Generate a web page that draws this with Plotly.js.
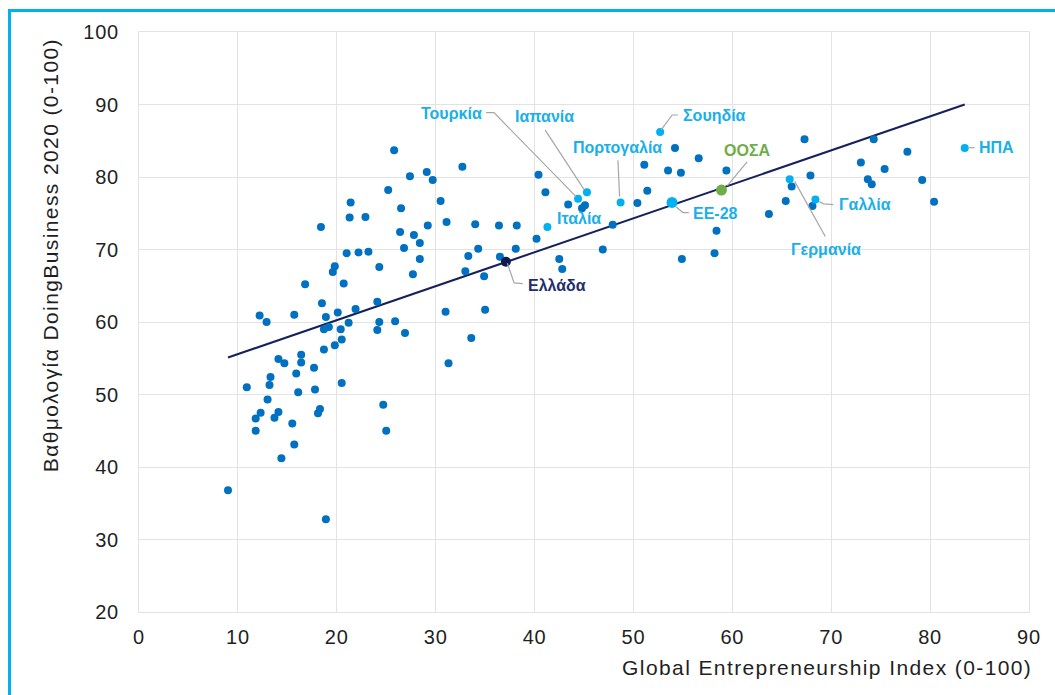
<!DOCTYPE html>
<html>
<head>
<meta charset="utf-8">
<script src="https://cdn.plot.ly/plotly-3.0.1.min.js"></script>
<style>
  html, body { margin: 0; padding: 0; background: #ffffff; overflow: hidden; }
  #chart { position: absolute; left: 0; top: 0; width: 1055px; height: 695px; }
  #frame { position: absolute; left: 8px; top: 9px; width: 1100px; height: 800px;
           border: 3px solid #00B0F0; pointer-events: none; }
  #chart g.annotation[data-index="11"] text,
  #chart g.annotation[data-index="12"] text { letter-spacing: 1.4px; }
  #chart .xtick text, #chart .ytick text { letter-spacing: 0.8px; }
</style>
</head>
<body>
<div id="chart"></div>
<div id="frame"></div>
<script>
// Global Entrepreneurship Index (x) vs DoingBusiness 2020 score (y), other countries
const otherGEI = [25.8,27.4,29.1,29.7,25.2,21.4,30.5,21.3,22.9,26.5,18.4,26.4,27.8,29.2,31.1,28.4,26.8,21.0,22.2,23.2,
  28.4,19.8,19.6,24.3,27.7,16.8,20.7,18.5,24.1,12.2,12.9,15.7,18.9,20.1,21.9,21.2,24.3,25.9,31.0,18.7,
  19.2,20.4,24.1,26.9,20.5,19.8,18.7,14.1,14.7,16.4,16.4,17.7,15.9,13.3,13.2,10.9,20.5,17.8,16.1,13.0,
  12.3,11.8,14.1,13.7,15.5,11.8,18.3,18.1,24.7,25.0,15.7,14.4,9.0,18.9,31.3,32.7,34.0,36.4,38.2,33.3,
  34.3,36.5,38.1,40.2,33.0,34.9,42.5,42.8,40.4,41.1,43.4,44.8,45.1,46.9,47.9,50.4,51.4,51.1,53.5,54.8,
  54.2,56.6,54.9,58.2,58.4,35.0,33.6,59.4,67.3,74.3,77.7,73.0,75.4,67.9,73.7,74.1,79.2,80.4,66.0,65.4,
  68.1,63.7];
const otherDB = [83.7,80.1,80.7,79.6,78.2,76.5,76.7,74.4,74.5,75.7,73.1,72.4,72.0,73.3,73.8,70.9,70.2,69.5,69.6,69.7,
  68.7,67.7,66.9,67.6,66.6,65.2,65.3,62.6,62.8,60.9,60.0,61.0,60.7,61.3,61.8,59.9,60.0,60.1,61.4,59.0,
  59.3,59.0,58.9,58.5,57.6,56.8,56.2,54.9,54.3,55.5,54.4,53.7,52.9,52.4,51.3,51.0,51.6,50.7,50.3,49.3,
  47.5,46.7,47.6,46.8,46.0,45.0,48.0,47.4,48.6,45.0,43.1,41.2,36.8,32.8,54.3,81.4,73.5,73.3,73.3,69.1,
  70.1,69.0,70.1,71.5,67.0,66.3,68.7,67.3,80.3,77.9,76.2,75.7,76.1,70.0,73.4,76.4,78.1,81.7,80.9,80.6,
  84.0,82.6,68.7,69.5,72.6,61.7,57.8,80.9,85.2,85.2,83.5,82.0,81.1,80.2,79.7,79.0,79.6,76.6,78.7,76.7,
  76.0,74.9];

// Highlighted countries
const hlNames = ['Τουρκία','Ιαπανία','Πορτογαλία','Σουηδία','Ιταλία','Γερμανία','Γαλλία','ΗΠΑ'];
const hlGEI   = [44.4, 45.3, 48.7, 52.7, 41.3, 65.8, 68.4, 83.5];
const hlDB    = [77.0, 77.9, 76.5, 86.2, 73.1, 79.7, 76.9, 84.0];

const euName = ['ΕΕ-28'];   const euGEI = [53.9];  const euDB = [76.5];
const grName = ['Ελλάδα'];  const grGEI = [37.1];  const grDB = [68.3];
const oecdName = ['ΟΟΣΑ'];  const oecdGEI = [58.9]; const oecdDB = [78.2];

// Linear trend line (endpoints)
const trendGEI = [9.0, 83.5];
const trendDB  = [55.1, 90.0];

// Tick labels
const xTicks = [0,10,20,30,40,50,60,70,80,90];
const yTicks = [20,30,40,50,60,70,80,90,100];

const FONT = 'Liberation Sans, Arial, sans-serif';
const LIGHT = '#1AAFEA';
const BLUE = '#0070C0';
const NAVY = '#16205A';
const GREEN = '#70AD47';
const LEAD = '#A6A6A6';
const TXT = '#1F1F1F';

const traces = [
  { x: trendGEI, y: trendDB, mode: 'lines', line: {color: NAVY, width: 2}, hoverinfo: 'skip' },
  { x: otherGEI, y: otherDB, mode: 'markers', marker: {color: BLUE, size: 8} },
  { x: hlGEI, y: hlDB, text: hlNames, mode: 'markers', marker: {color: '#00B0F0', size: 8} },
  { x: euGEI, y: euDB, text: euName, mode: 'markers', marker: {color: '#00B0F0', size: 11} },
  { x: grGEI, y: grDB, text: grName, mode: 'markers', marker: {color: '#0E1A4F', size: 10} },
  { x: oecdGEI, y: oecdDB, text: oecdName, mode: 'markers', marker: {color: GREEN, size: 11} }
];

function lab(text, x, y, xanchor, color) {
  return { text: '<b>' + text + '</b>', x: x, y: y, xref: 'x', yref: 'y', xanchor: xanchor, yanchor: 'middle',
           showarrow: false, font: {family: FONT, size: 16, color: color || LIGHT} };
}
function lead(pts) {
  return { type: 'path', xref: 'x', yref: 'y', layer: 'above',
           path: 'M' + pts.map(p => p[0] + ',' + p[1]).join(' L'),
           line: {color: LEAD, width: 1.2} };
}

const annotations = [
  lab(hlNames[0], 34.9, 88.7, 'right'),
  lab(hlNames[1], 40.96, 88.3, 'center'),
  lab(hlNames[2], 48.36, 84.1, 'center'),
  lab(hlNames[3], 54.77, 88.55, 'left'),
  lab(hlNames[4], 44.49, 74.3, 'center'),
  lab(hlNames[5], 69.52, 70.0, 'center'),
  lab(hlNames[6], 70.59, 76.14, 'left'),
  lab(hlNames[7], 84.73, 84.04, 'left'),
  lab(euName[0], 55.78, 75.0, 'left'),
  lab(grName[0], 39.17, 64.97, 'left', '#1F2D6B'),
  lab(oecdName[0], 61.49, 83.72, 'center', GREEN),
  { text: 'Global Entrepreneurship Index (0-100)', xref: 'paper', yref: 'paper', x: 0.976, y: -0.095,
    xanchor: 'right', yanchor: 'middle', showarrow: false, font: {family: FONT, size: 21, color: TXT} },
  { text: 'Βαθμολογία DoingBusiness 2020 (0-100)', xref: 'paper', yref: 'paper', x: -0.1, y: 0.615,
    xanchor: 'center', yanchor: 'middle', textangle: -90, showarrow: false,
    font: {family: FONT, size: 21, color: TXT} }
];

const shapes = [
  lead([[35.1,88.87],[35.9,88.87],[44.2,77.3]]),
  lead([[41.06,86.5],[45.0,78.3]]),
  lead([[48.43,82.3],[48.6,77.3]]),
  lead([[54.5,88.55],[53.92,88.55],[52.8,86.5]]),
  lead([[54.3,75.9],[55.0,75.1],[55.6,75.1]]),
  lead([[37.25,68.1],[37.93,65.4],[38.8,65.3]]),
  lead([[61.49,82.1],[59.5,78.8]]),
  lead([[66.3,79.4],[69.4,71.8]]),
  lead([[68.8,76.6],[69.2,76.3],[70.2,76.2]]),
  lead([[83.8,84.04],[84.5,84.04]])
];

const layout = {
  width: 1055, height: 695,
  margin: {l: 139, r: 26, t: 32, b: 83},
  paper_bgcolor: '#ffffff', plot_bgcolor: '#ffffff',
  showlegend: false,
  font: {family: FONT, size: 20, color: TXT},
  xaxis: {
    range: [0, 90], tickvals: xTicks, ticktext: xTicks.map(String),
    showgrid: true, gridcolor: '#E3E3E3', gridwidth: 1,
    zeroline: false, showline: true, linecolor: '#E3E3E3', linewidth: 1, mirror: true,
    ticks: '', ticklabelstandoff: 7,
    tickfont: {family: FONT, size: 20, color: TXT}
  },
  yaxis: {
    range: [20, 100], tickvals: yTicks, ticktext: yTicks.map(String),
    showgrid: true, gridcolor: '#E3E3E3', gridwidth: 1,
    zeroline: false, showline: true, linecolor: '#E3E3E3', linewidth: 1, mirror: true,
    ticks: '', ticklabelstandoff: 15,
    tickfont: {family: FONT, size: 20, color: TXT}
  },
  annotations: annotations,
  shapes: shapes
};

Plotly.newPlot('chart', traces, layout, {displayModeBar: false, staticPlot: true});
</script>
</body>
</html>
